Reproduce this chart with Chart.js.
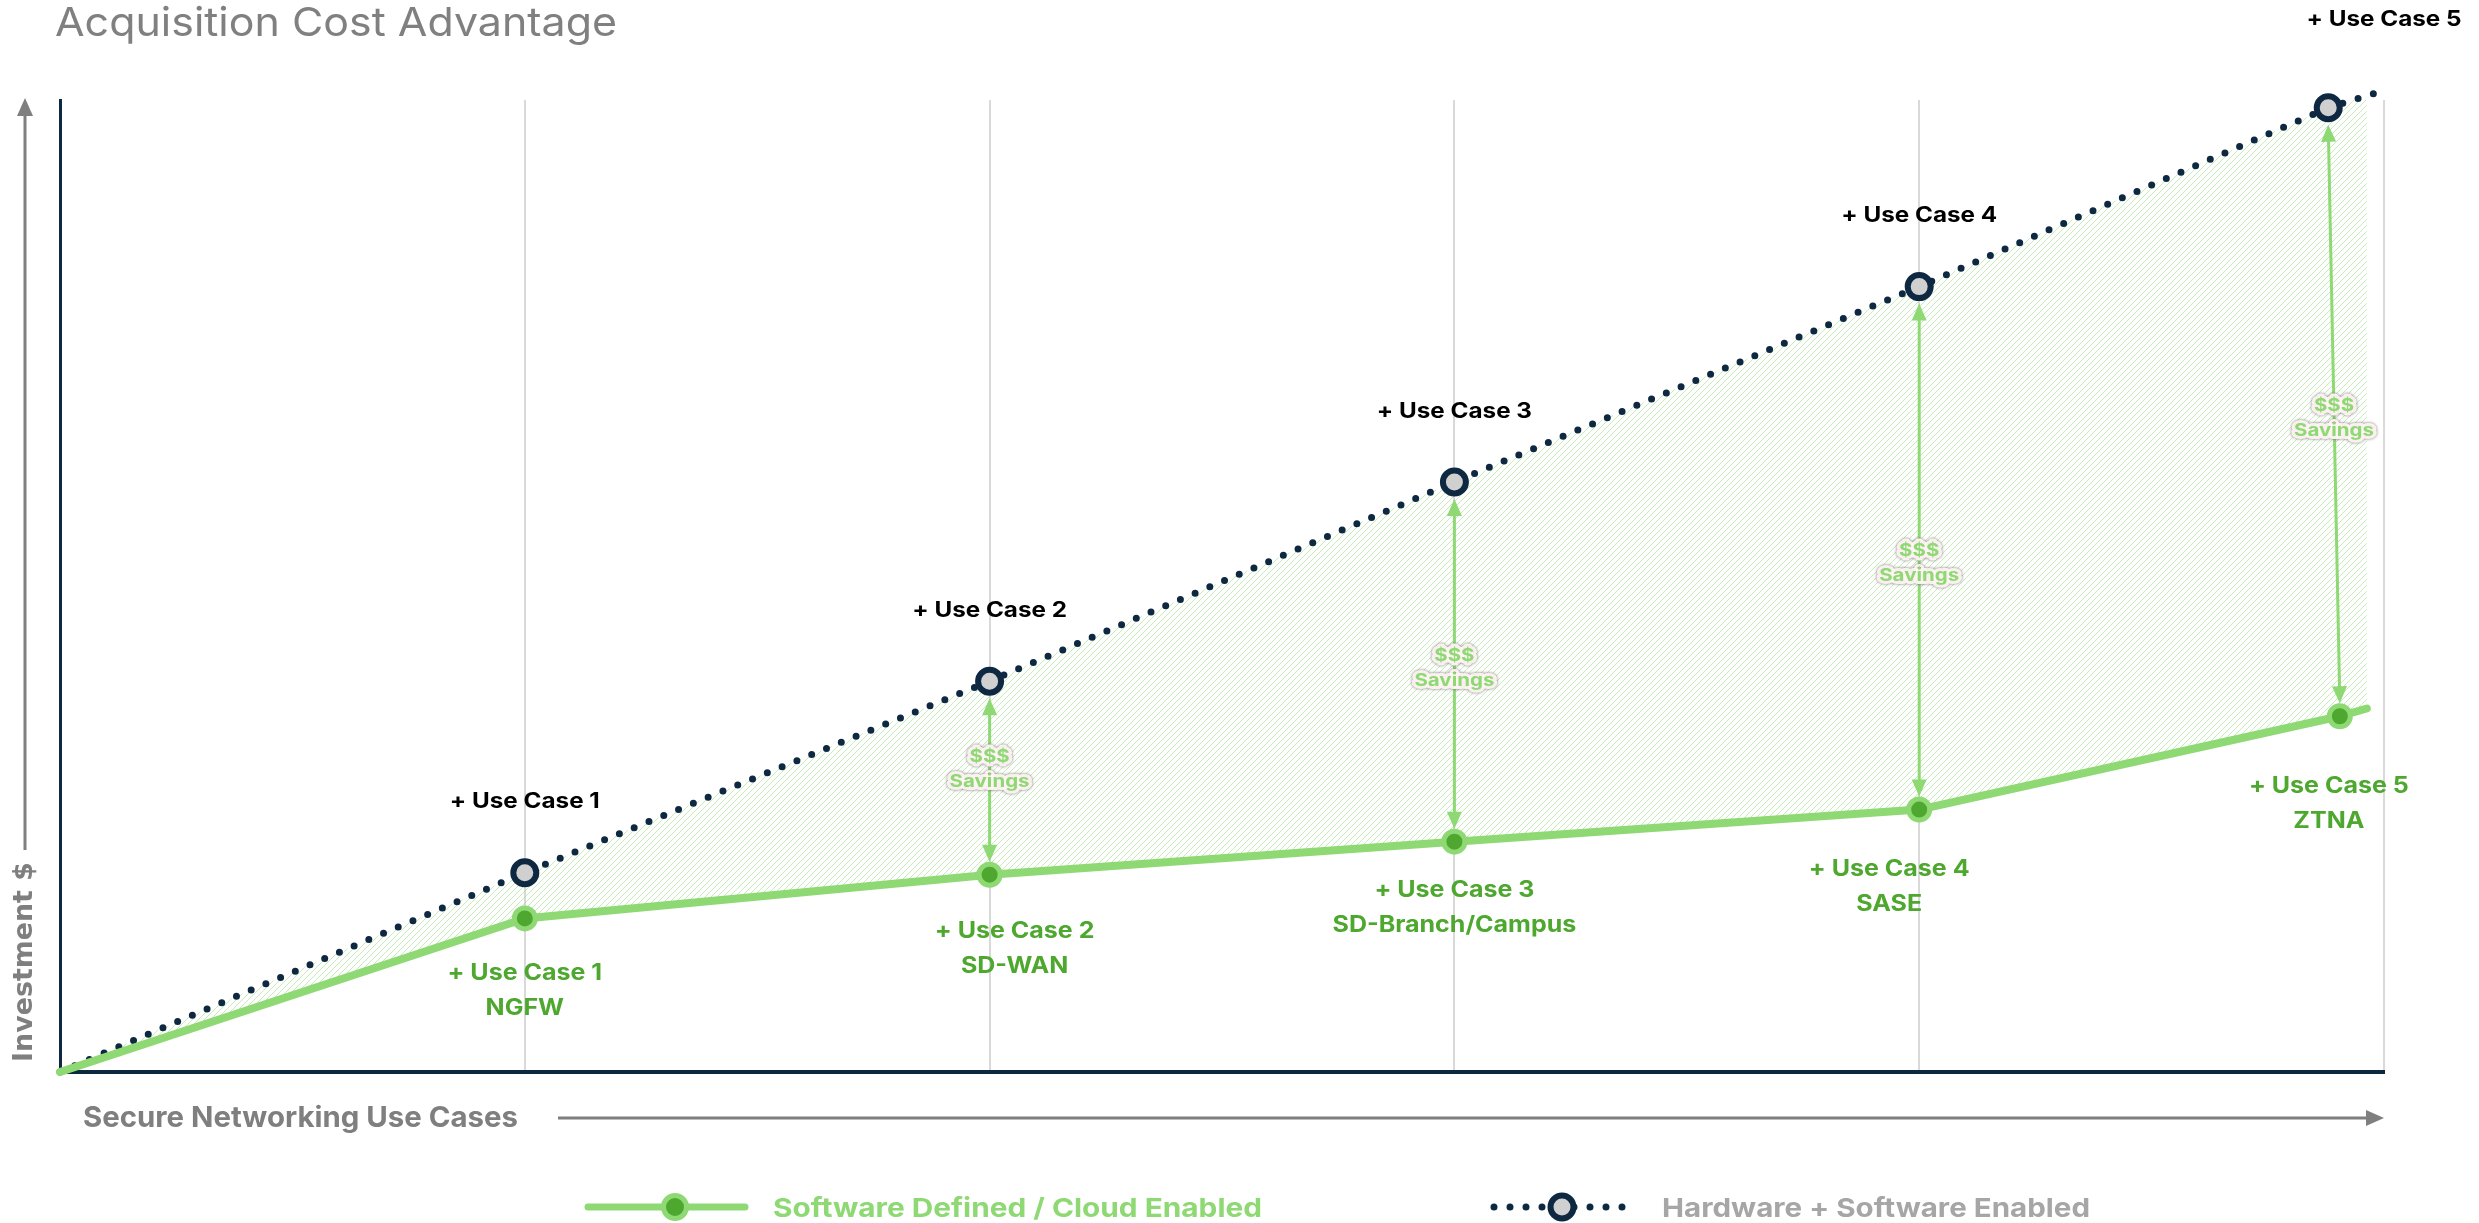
<!DOCTYPE html>
<html><head><meta charset="utf-8">
<script src="https://cdn.jsdelivr.net/npm/chart.js@4.4.1/dist/chart.umd.min.js"></script>
<style>html,body{margin:0;padding:0;background:#fff;overflow:hidden}canvas{display:block}</style>
</head><body>
<canvas id="c" width="2479" height="1223"></canvas>
<script>
// ---------- data ----------
const chartTitle = 'Acquisition Cost Advantage';
const xAxisTitle = 'Secure Networking Use Cases';
const yAxisTitle = 'Investment $';
const useCaseLabels = ['+ Use Case 1', '+ Use Case 2', '+ Use Case 3', '+ Use Case 4', '+ Use Case 5'];
const solutionLabels = ['NGFW', 'SD-WAN', 'SD-Branch/Campus', 'SASE', 'ZTNA'];
const seriesNames = ['Software Defined / Cloud Enabled', 'Hardware + Software Enabled'];
const savingsLines = ['$$$', 'Savings'];
// hardware + software (dotted) line
const hwX = [0, 1, 2, 3, 4, 4.88, 5];
const hwY = [0, 20.5, 40.2, 60.7, 80.8, 99.2, 101];
// software defined (solid) line
const swX = [0, 1, 2, 3, 4, 4.905, 4.963];
const swY = [0, 15.8, 20.3, 23.7, 27.0, 36.6, 37.4];
// indices of the points that carry a marker (one per use case)
const markerIdx = [1, 2, 3, 4, 5];
// indices where a "$$$ Savings" arrow is drawn
const savingsIdx = [2, 3, 4, 5];

// ---------- styles ----------
const NAVY = '#0E2841', LG = '#8ED973', DG = '#4EA72E', GRAY = '#7F7F7F';
const FONT = "Inter, 'Liberation Sans', Arial, sans-serif";
const CAP = 0.727;
const canvas = document.getElementById('c');
const ctx0 = canvas.getContext('2d');

function makeHatch() {
  const t = 6, c = document.createElement('canvas');
  c.width = t; c.height = t;
  const g = c.getContext('2d');
  g.strokeStyle = 'rgba(142,217,115,0.5)';
  g.lineWidth = 1;
  g.beginPath();
  g.moveTo(0, t); g.lineTo(t, 0);
  g.moveTo(-1, 1); g.lineTo(1, -1);
  g.moveTo(t - 1, t + 1); g.lineTo(t + 1, t - 1);
  g.stroke();
  return ctx0.createPattern(c, 'repeat');
}
function fontStr(weight, cap, family) { return weight + ' ' + (cap / CAP) + 'px ' + family; }
function fitScale(ctx, text, weight, cap, family, width) {
  ctx.save();
  ctx.font = fontStr(weight, cap, family);
  const w = ctx.measureText(text).width;
  ctx.restore();
  return width / w;
}
// draws text with its baseline at y; horizontal squeeze sx
function drawText(ctx, text, x, y, o) {
  ctx.save();
  ctx.font = fontStr(o.weight, o.cap, o.family || FONT);
  const w = ctx.measureText(text).width * o.sx;
  const left = o.align === 'center' ? x - w / 2 : x;
  ctx.translate(left, y);
  ctx.scale(o.sx, 1);
  ctx.textAlign = 'left'; ctx.textBaseline = 'alphabetic';
  if (o.halo) {
    ctx.save();
    ctx.lineJoin = 'round';
    ctx.shadowColor = 'rgba(100,100,100,0.9)';
    ctx.shadowBlur = 3;
    ctx.strokeStyle = 'rgba(255,244,244,0.97)';
    ctx.lineWidth = 6;
    ctx.strokeText(text, 0, 0);
    ctx.restore();
  }
  ctx.fillStyle = o.color;
  ctx.fillText(text, 0, 0);
  ctx.restore();
}
function interpY(xs, ys, xv) {
  for (let i = 0; i < xs.length - 1; i++) {
    if (xv >= xs[i] && xv <= xs[i + 1]) {
      const t = (xv - xs[i]) / (xs[i + 1] - xs[i]);
      return ys[i] + t * (ys[i + 1] - ys[i]);
    }
  }
  return ys[ys.length - 1];
}
function head(ctx, tx, ty, dx, dy, len, hw) {
  const l = Math.hypot(dx, dy), ux = dx / l, uy = dy / l;
  const bx = tx - ux * len, by = ty - uy * len;
  ctx.beginPath();
  ctx.moveTo(tx, ty);
  ctx.lineTo(bx - uy * hw, by + ux * hw);
  ctx.lineTo(bx + uy * hw, by - ux * hw);
  ctx.closePath();
  ctx.fill();
}
function dblArrow(ctx, x1, y1, x2, y2) {
  const l = Math.hypot(x2 - x1, y2 - y1), ux = (x2 - x1) / l, uy = (y2 - y1) / l;
  ctx.beginPath();
  ctx.moveTo(x1 + ux * 12, y1 + uy * 12);
  ctx.lineTo(x2 - ux * 12, y2 - uy * 12);
  ctx.stroke();
  head(ctx, x1, y1, x1 - x2, y1 - y2, 17, 7.5);
  head(ctx, x2, y2, x2 - x1, y2 - y1, 17, 7.5);
}

// label placement nudges (pixels)
const hwLabelDy = -72;
const swNudgeX = [0, 25, 0, -30, -11];
const swNudgeY = [53, 55, 47, 58, 69];
const swLineGap = 35;
const savDy = [-22, -7, 2, -7];
const savGap = 25;

const deco = {
  id: 'deco',
  afterDatasetsDraw(chart) {
    const { ctx, scales: { x, y } } = chart;
    ctx.save();
    // savings arrows
    ctx.strokeStyle = LG; ctx.fillStyle = LG; ctx.lineWidth = 3;
    savingsIdx.forEach((i) => {
      const x1 = x.getPixelForValue(hwX[i]), y1 = y.getPixelForValue(hwY[i]) + 17;
      const x2 = x.getPixelForValue(swX[i]), y2 = y.getPixelForValue(swY[i]) - 13;
      dblArrow(ctx, x1, y1, x2, y2);
    });
    // savings labels
    const sCap = 12.5;
    const sSx = fitScale(ctx, savingsLines[1], 'bold', sCap, FONT, 80);
    savingsIdx.forEach((i, k) => {
      const xm = (x.getPixelForValue(hwX[i]) + x.getPixelForValue(swX[i])) / 2;
      const ym = (y.getPixelForValue(hwY[i]) + y.getPixelForValue(swY[i])) / 2 + savDy[k];
      drawText(ctx, savingsLines[0], xm, ym + sCap / 2, { weight: 'bold', cap: sCap, sx: sSx, align: 'center', color: LG, halo: true });
      drawText(ctx, savingsLines[1], xm, ym + savGap + sCap / 2, { weight: 'bold', cap: sCap, sx: sSx, align: 'center', color: LG, halo: true });
    });
    // black use-case labels above dotted line
    const bCap = 15.5;
    const bSx = fitScale(ctx, useCaseLabels[0], 'bold', bCap, FONT, 150);
    useCaseLabels.forEach((t, k) => {
      const xv = k + 1;
      const cy = y.getPixelForValue(interpY(hwX, hwY, xv)) + hwLabelDy;
      drawText(ctx, t, x.getPixelForValue(xv), cy + bCap / 2, { weight: 'bold', cap: bCap, sx: bSx, align: 'center', color: '#000' });
    });
    // green labels below solid line
    const gCap = 16.5;
    const gSx = fitScale(ctx, useCaseLabels[2], 'bold', gCap, FONT, 160);
    markerIdx.forEach((i, k) => {
      const px = x.getPixelForValue(swX[i]) + swNudgeX[k];
      const py = y.getPixelForValue(swY[i]) + swNudgeY[k] + gCap / 2;
      drawText(ctx, useCaseLabels[k], px, py, { weight: 'bold', cap: gCap, sx: gSx, align: 'center', color: DG });
      drawText(ctx, solutionLabels[k], px, py + swLineGap, { weight: 'bold', cap: gCap, sx: gSx, align: 'center', color: DG });
    });
    ctx.restore();
  },
  afterDraw(chart) {
    const { ctx, chartArea: a } = chart;
    ctx.save();
    // title
    const tCap = 29;
    drawText(ctx, chartTitle, 55, 36, { weight: 'normal', cap: tCap, sx: fitScale(ctx, chartTitle, 'normal', tCap, FONT, 562), color: '#808080' });
    // y arrow
    ctx.strokeStyle = GRAY; ctx.fillStyle = GRAY; ctx.lineWidth = 3;
    ctx.beginPath(); ctx.moveTo(25, 850); ctx.lineTo(25, 112); ctx.stroke();
    head(ctx, 25, 98, 0, -1, 18, 8);
    // y title
    ctx.save();
    ctx.font = 'bold 100px DejaVu Sans, sans-serif';
    const yw = ctx.measureText(yAxisTitle).width;
    ctx.translate(25, 962); ctx.rotate(-Math.PI / 2);
    ctx.font = 'bold ' + (100 * 200 / yw) + 'px DejaVu Sans, sans-serif';
    ctx.textAlign = 'center'; ctx.textBaseline = 'middle';
    ctx.fillText(yAxisTitle, 0, 0);
    ctx.restore();
    // x title + arrow
    const xCap = 21, xy = 1116;
    drawText(ctx, xAxisTitle, 83, xy + xCap / 2, { weight: 'bold', cap: xCap, sx: fitScale(ctx, xAxisTitle, 'bold', xCap, FONT, 435), color: GRAY });
    ctx.beginPath(); ctx.moveTo(558, 1118); ctx.lineTo(a.right - 14, 1118); ctx.stroke();
    head(ctx, a.right, 1118, 1, 0, 18, 8);
    // legend
    const ly = 1207;
    ctx.lineCap = 'round';
    ctx.strokeStyle = LG; ctx.lineWidth = 7;
    ctx.beginPath(); ctx.moveTo(588, ly); ctx.lineTo(745, ly); ctx.stroke();
    ctx.beginPath(); ctx.arc(675, ly, 11.5, 0, Math.PI * 2);
    ctx.fillStyle = DG; ctx.fill(); ctx.lineWidth = 5; ctx.strokeStyle = LG; ctx.stroke();
    ctx.strokeStyle = NAVY; ctx.lineWidth = 7; ctx.setLineDash([0, 16]);
    ctx.beginPath(); ctx.moveTo(1494, ly); ctx.lineTo(1630, ly); ctx.stroke();
    ctx.setLineDash([]);
    ctx.beginPath(); ctx.arc(1562, ly, 11.5, 0, Math.PI * 2);
    ctx.fillStyle = '#D0D0D0'; ctx.fill(); ctx.lineWidth = 6; ctx.strokeStyle = NAVY; ctx.stroke();
    const lCap = 19;
    drawText(ctx, seriesNames[0], 773, ly + lCap / 2, { weight: 'bold', cap: lCap, sx: fitScale(ctx, seriesNames[0], 'bold', lCap, FONT, 489), color: LG });
    drawText(ctx, seriesNames[1], 1662, ly + lCap / 2, { weight: 'bold', cap: lCap, sx: fitScale(ctx, seriesNames[1], 'bold', lCap, FONT, 428), color: '#A6A6A6' });
    ctx.restore();
  }
};

const radii = (xs, r) => xs.map((_, i) => markerIdx.includes(i) ? r : 0);

new Chart(canvas, {
  type: 'line',
  data: {
    datasets: [
      {
        label: seriesNames[0],
        data: swX.map((v, i) => ({ x: v, y: swY[i] })),
        borderColor: LG, borderWidth: 8, fill: false,
        pointRadius: radii(swX, 10.5), pointBackgroundColor: DG,
        pointBorderColor: LG, pointBorderWidth: 5,
        borderCapStyle: 'round', borderJoinStyle: 'round', tension: 0, clip: false
      },
      {
        label: seriesNames[1],
        data: hwX.map((v, i) => ({ x: v, y: hwY[i] })),
        borderColor: NAVY, borderWidth: 7, borderDash: [0, 16], borderCapStyle: 'round',
        fill: '-1', backgroundColor: makeHatch(),
        pointRadius: radii(hwX, 11.5), pointBackgroundColor: '#D0D0D0',
        pointBorderColor: NAVY, pointBorderWidth: 6, tension: 0, clip: false
      }
    ]
  },
  options: {
    responsive: false, devicePixelRatio: 1, animation: false, events: [],
    layout: { padding: { left: 60, right: 95, top: 100, bottom: 151 } },
    plugins: { legend: { display: false }, tooltip: { enabled: false }, title: { display: false } },
    scales: {
      x: {
        type: 'linear', min: 0, max: 5,
        ticks: { display: false, stepSize: 1 },
        grid: { color: '#D9D9D9', lineWidth: 2, drawTicks: false },
        border: { color: NAVY, width: 4 }
      },
      y: {
        type: 'linear', min: 0, max: 100,
        ticks: { display: false },
        grid: { display: false, drawTicks: false },
        border: { color: NAVY, width: 3 }
      }
    }
  },
  plugins: [deco]
});
</script></body></html>
